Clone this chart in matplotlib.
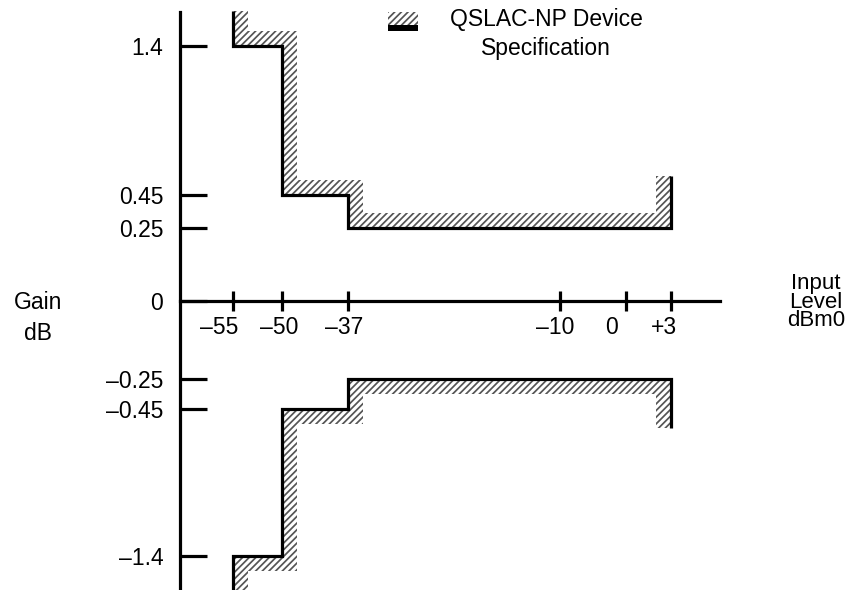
import numpy as np
import matplotlib.pyplot as plt
from matplotlib.patches import Polygon, Rectangle

plt.rcParams['font.family'] = ['Liberation Sans', 'DejaVu Sans']
plt.rcParams['hatch.linewidth'] = 1.25

# chart values
input_ticks = [-55, -50, -37, -10, 0, 3]
input_labels = ['–55', '–50', '–37', '–10', '0', '+3']
gain_ticks = [-1.4, -0.45, -0.25, 0, 0.25, 0.45, 1.4]
gain_labels = ['–1.4', '–0.45', '–0.25', '0', '0.25', '0.45', '1.4']

# upper and lower limit of the spec mask
upper_x = [-55, -55, -50, -50, -37, -37, 3, 3]
upper_y = [1.62, 1.4, 1.4, 0.45, 0.45, 0.25, 0.25, 0.57]
lower_x = [-55, -55, -50, -50, -37, -37, 3, 3]
lower_y = [-1.62, -1.4, -1.4, -0.45, -0.45, -0.25, -0.25, -0.57]

# layout: the drawing is not to scale, so each tick gets its own place (pixels)
W, H = 851, 590
input_tick_px = [233, 282, 348, 560, 626, 671]
gain_tick_px = [34, 181, 211, 289, 362, 395, 544]  # measured from the bottom
label_shift_px = [-14, -3, -4, -5, -15, -7]
HATCH_COLOR = '#555555'
FS = 16.5


def piecewise(v, xp, fp):
    # linear between the anchors, carried on straight past both ends
    v = np.asarray(v, float)
    lo = fp[0] + (v - xp[0]) * (fp[1] - fp[0]) / (xp[1] - xp[0])
    hi = fp[-1] + (v - xp[-1]) * (fp[-1] - fp[-2]) / (xp[-1] - xp[-2])
    return np.where(v < xp[0], lo, np.where(v > xp[-1], hi, np.interp(v, xp, fp)))


fx = lambda v: piecewise(v, input_ticks, input_tick_px)
ix = lambda p: piecewise(p, input_tick_px, input_ticks)
fy = lambda v: piecewise(v, gain_ticks, gain_tick_px)
iy = lambda p: piecewise(p, gain_tick_px, gain_ticks)


def band(xs, ys, side, d=15):
    # hatched strip along the step line, d pixels wide, on the given side
    pts = np.column_stack([fx(xs), fy(ys)])
    seg = np.diff(pts, axis=0)
    seg = seg / np.linalg.norm(seg, axis=1)[:, None]
    if side == 'left':
        nrm = np.column_stack([-seg[:, 1], seg[:, 0]])
    else:
        nrm = np.column_stack([seg[:, 1], -seg[:, 0]])
    off = np.zeros_like(pts)
    off[:-1] += nrm
    off[1:] += nrm
    poly = np.vstack([pts, (pts + d * off)[::-1]])
    return np.column_stack([ix(poly[:, 0]), iy(poly[:, 1])])


fig = plt.figure(figsize=(W / 100, H / 100), dpi=100)
ax = fig.add_axes([0, 0, 1, 1])
ax.set_xscale('function', functions=(fx, ix))
ax.set_yscale('function', functions=(fy, iy))
ax.set_xlim(float(ix(0)), float(ix(W)))
ax.set_ylim(float(iy(0)), float(iy(H)))

for xs, ys, side in [(upper_x, upper_y, 'left'), (lower_x, lower_y, 'right')]:
    ax.add_patch(Polygon(band(xs, ys, side), closed=True, facecolor='none',
                         edgecolor=HATCH_COLOR, hatch='/////', linewidth=0, zorder=1))
    ax.plot(xs, ys, color='black', lw=2.3, solid_joinstyle='miter',
            solid_capstyle='butt', zorder=2)

# axes drawn as a cross
ax.spines['top'].set_visible(False)
ax.spines['right'].set_visible(False)
ax.spines['left'].set_position(('data', float(ix(180))))
ax.spines['left'].set_bounds(float(iy(0)), float(iy(H - 12)))
ax.spines['bottom'].set_position(('data', 0))
ax.spines['bottom'].set_bounds(float(ix(180)), float(ix(720)))
for s in ['left', 'bottom']:
    ax.spines[s].set_linewidth(2.3)

ax.set_xticks(input_ticks)
ax.tick_params(axis='x', direction='inout', length=15, width=2.3, labelbottom=False)
ax.set_yticks(gain_ticks, gain_labels)
ax.tick_params(axis='y', direction='in', length=19.5, width=2.3, pad=12, labelsize=FS)

for v, lab, sh in zip(input_ticks, input_labels, label_shift_px):
    ax.annotate(lab, xy=(v, 0), xytext=(sh * 0.72, -27 * 0.72), textcoords='offset points',
                ha='center', va='center', fontsize=FS)

fig.text(38 / W, 1 - 291 / H, 'Gain\ndB', ha='center', va='top', fontsize=FS, linespacing=1.45)
fig.text(816 / W, 1 - 273 / H, 'Input\nLevel\ndBm0', ha='center', va='top',
         fontsize=16, linespacing=0.85)

# legend swatch
fig.add_artist(Rectangle((388 / W, 1 - 25 / H), 30 / W, 13 / H, transform=fig.transFigure,
                         facecolor='none', edgecolor=HATCH_COLOR, hatch='/////', linewidth=0))
fig.add_artist(Rectangle((388 / W, 1 - 31 / H), 30 / W, 6 / H, transform=fig.transFigure,
                         facecolor='black', linewidth=0))
fig.text(546 / W, 1 - 8 / H, 'QSLAC-NP Device\nSpecification', ha='center', va='top',
         multialignment='center', fontsize=FS, linespacing=1.35)

fig.savefig('out.png', dpi=100)
